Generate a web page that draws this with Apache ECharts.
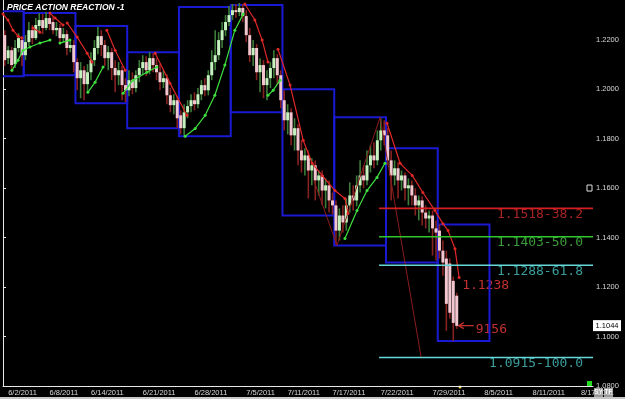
<!DOCTYPE html>
<html>
<head>
<meta charset="utf-8">
<script src="https://cdn.jsdelivr.net/npm/echarts@6/dist/echarts.min.js"></script>
<style>
html, body { margin: 0; padding: 0; background: #000; }
#main { width: 625px; height: 399px; }
</style>
</head>
<body>
<div id="main"></div>
<script>
// date ticks (bar index -> label)
var tickIdx = [1, 13, 25, 40, 55, 70, 82, 95, 109, 124, 139, 153, 167];
var tickText = ['6/2/2011', '6/8/2011', '6/14/2011', '6/21/2011', '6/28/2011', '7/5/2011', '7/11/2011',
    '7/17/2011', '7/22/2011', '7/29/2011', '8/5/2011', '8/11/2011', '8/17/2011'];
var slots = 171;

var opens = [
    1.2218, 1.2125, 1.2157, 1.2101, 1.2166, 1.2198, 1.2137, 1.2190, 1.2238, 1.2206,
    1.2255, 1.2279, 1.2247, 1.2287, 1.2271, 1.2238, 1.2247, 1.2206, 1.2222, 1.2166,
    1.2178, 1.2109, 1.2044, 1.2076, 1.2020, 1.2068, 1.2117, 1.2166, 1.2214, 1.2178,
    1.2125, 1.2149, 1.2085, 1.2056, 1.2076, 1.2016, 1.1995, 1.2036, 1.2004, 1.2056,
    1.2085, 1.2109, 1.2076, 1.2125, 1.2097, 1.2068, 1.2028, 1.2044, 1.1975, 1.1935,
    1.1955, 1.1894, 1.1842, 1.1906, 1.1931, 1.1955, 1.1939, 1.1979, 1.2016, 1.1995,
    1.2056, 1.2109, 1.2137, 1.2198, 1.2238, 1.2271, 1.2299, 1.2319, 1.2311, 1.2328,
    1.2295, 1.2218, 1.2137, 1.2166, 1.2068, 1.2097, 1.2016, 1.2044, 1.2085, 1.2125,
    1.2056, 1.1955, 1.1874, 1.1906, 1.1813, 1.1842, 1.1752, 1.1712, 1.1732, 1.1671,
    1.1692, 1.1631, 1.1651, 1.1590, 1.1611, 1.1550, 1.1530, 1.1428, 1.1489, 1.1461,
    1.1530, 1.1570, 1.1550, 1.1611, 1.1651, 1.1631, 1.1692, 1.1732, 1.1712, 1.1793,
    1.1833, 1.1813, 1.1712, 1.1651, 1.1680, 1.1631, 1.1651, 1.1599, 1.1611, 1.1570,
    1.1530, 1.1550, 1.1501, 1.1477, 1.1489, 1.1437, 1.1428, 1.1347, 1.1315, 1.1295,
    1.1225, 1.1165
];
var closes = [
    1.2117, 1.2157, 1.2097, 1.2166, 1.2206, 1.2137, 1.2190, 1.2238, 1.2206, 1.2259,
    1.2279, 1.2247, 1.2287, 1.2263, 1.2238, 1.2247, 1.2206, 1.2222, 1.2166, 1.2178,
    1.2109, 1.2044, 1.2076, 1.2020, 1.2068, 1.2117, 1.2166, 1.2214, 1.2178, 1.2125,
    1.2149, 1.2085, 1.2056, 1.2076, 1.2016, 1.1995, 1.2036, 1.2004, 1.2056, 1.2085,
    1.2109, 1.2076, 1.2125, 1.2097, 1.2068, 1.2028, 1.2044, 1.1975, 1.1935, 1.1955,
    1.1882, 1.1842, 1.1906, 1.1931, 1.1955, 1.1939, 1.1979, 1.2016, 1.1995, 1.2056,
    1.2109, 1.2137, 1.2198, 1.2238, 1.2271, 1.2299, 1.2319, 1.2311, 1.2328, 1.2295,
    1.2218, 1.2137, 1.2166, 1.2068, 1.2097, 1.2016, 1.2044, 1.2085, 1.2125, 1.2056,
    1.1955, 1.1874, 1.1906, 1.1813, 1.1842, 1.1752, 1.1712, 1.1732, 1.1671, 1.1692,
    1.1631, 1.1651, 1.1590, 1.1611, 1.1550, 1.1530, 1.1428, 1.1489, 1.1461, 1.1530,
    1.1570, 1.1550, 1.1611, 1.1651, 1.1631, 1.1692, 1.1732, 1.1712, 1.1793, 1.1833,
    1.1813, 1.1712, 1.1651, 1.1680, 1.1631, 1.1651, 1.1599, 1.1611, 1.1570, 1.1530,
    1.1550, 1.1501, 1.1477, 1.1489, 1.1437, 1.1420, 1.1347, 1.1299, 1.1132, 1.1096,
    1.1055, 1.1043
];
var lows = [
    1.2093, 1.2101, 1.2068, 1.2085, 1.2149, 1.2093, 1.2117, 1.2174, 1.2182, 1.2198,
    1.2230, 1.2222, 1.2238, 1.2238, 1.2222, 1.2214, 1.2182, 1.2190, 1.2137, 1.2149,
    1.2068, 1.1995, 1.1963, 1.1955, 1.1987, 1.2036, 1.2093, 1.2141, 1.2133, 1.2093,
    1.2076, 1.2036, 1.1987, 1.2016, 1.1955, 1.1947, 1.1971, 1.1979, 1.1987, 1.2028,
    1.2056, 1.2052, 1.2060, 1.2068, 1.2036, 1.1995, 1.2004, 1.1939, 1.1906, 1.1898,
    1.1842, 1.1817, 1.1813, 1.1882, 1.1906, 1.1914, 1.1923, 1.1955, 1.1971, 1.1975,
    1.2036, 1.2076, 1.2117, 1.2166, 1.2214, 1.2255, 1.2279, 1.2287, 1.2295, 1.2271,
    1.2190, 1.2109, 1.2093, 1.2036, 1.1987, 1.1963, 1.1955, 1.2004, 1.2044, 1.2020,
    1.1923, 1.1833, 1.1817, 1.1773, 1.1752, 1.1692, 1.1663, 1.1651, 1.1558, 1.1611,
    1.1550, 1.1570, 1.1530, 1.1518, 1.1501, 1.1493, 1.1372, 1.1388, 1.1420, 1.1428,
    1.1501, 1.1509, 1.1526, 1.1582, 1.1599, 1.1611, 1.1663, 1.1680, 1.1692, 1.1752,
    1.1773, 1.1692, 1.1550, 1.1611, 1.1558, 1.1590, 1.1550, 1.1530, 1.1530, 1.1489,
    1.1469, 1.1449, 1.1437, 1.1420, 1.1327, 1.1307, 1.1315, 1.1246, 1.1023, 1.1072,
    1.0982, 1.1031
];
var highs = [
    1.2238, 1.2174, 1.2170, 1.2198, 1.2226, 1.2214, 1.2218, 1.2271, 1.2259, 1.2287,
    1.2307, 1.2303, 1.2311, 1.2303, 1.2295, 1.2271, 1.2263, 1.2247, 1.2238, 1.2198,
    1.2198, 1.2125, 1.2109, 1.2093, 1.2101, 1.2149, 1.2198, 1.2251, 1.2238, 1.2198,
    1.2174, 1.2166, 1.2117, 1.2109, 1.2093, 1.2044, 1.2076, 1.2068, 1.2076, 1.2117,
    1.2137, 1.2133, 1.2149, 1.2145, 1.2125, 1.2101, 1.2076, 1.2060, 1.2004, 1.1979,
    1.1971, 1.1914, 1.1939, 1.1955, 1.1979, 1.1987, 1.2004, 1.2036, 1.2044, 1.2076,
    1.2157, 1.2238, 1.2230, 1.2271, 1.2299, 1.2336, 1.2344, 1.2344, 1.2348, 1.2344,
    1.2319, 1.2247, 1.2198, 1.2182, 1.2125, 1.2117, 1.2076, 1.2109, 1.2157, 1.2141,
    1.2076, 1.1995, 1.1939, 1.1923, 1.1882, 1.1858, 1.1793, 1.1761, 1.1752, 1.1720,
    1.1712, 1.1671, 1.1671, 1.1639, 1.1631, 1.1582, 1.1550, 1.1518, 1.1530, 1.1558,
    1.1623, 1.1611, 1.1651, 1.1712, 1.1692, 1.1752, 1.1773, 1.1785, 1.1833, 1.1882,
    1.1874, 1.1842, 1.1752, 1.1712, 1.1704, 1.1671, 1.1663, 1.1639, 1.1631, 1.1599,
    1.1570, 1.1566, 1.1530, 1.1509, 1.1509, 1.1469, 1.1453, 1.1388, 1.1347, 1.1315,
    1.1242, 1.1177
];

// weekly range boxes (bar edges, price high/low)
var boxStart = [-9, 6, 21, 36, 51, 66, 81, 96, 111, 126];
var boxEnd = [6, 21, 36, 51, 66, 81, 96, 111, 126, 141];
var boxHigh = [1.2315, 1.2307, 1.2255, 1.2149, 1.2332, 1.2340, 1.1999, 1.1886, 1.1761, 1.1453];
var boxLow = [1.2052, 1.2056, 1.1943, 1.1842, 1.1809, 1.1906, 1.1489, 1.1368, 1.1299, 1.0982];

// trailing stops
var redStops = [
    [[0, 1.2303], [1.45, 1.2279], [2.9, 1.2238], [4.35, 1.2214], [5.5, 1.2206]],
    [[8.7, 1.2247], [10.7, 1.2230]],
    [[13.6, 1.2307], [15.1, 1.2287], [17.4, 1.2259]],
    [[18.6, 1.2267], [21.5, 1.2210], [24.4, 1.2145], [25.8, 1.2109]],
    [[30.1, 1.2238], [32.5, 1.2157], [35.4, 1.2076]],
    [[44.1, 1.2145], [48.4, 1.2024], [53.3, 1.1894]],
    [[70.1, 1.2344], [73, 1.2279], [75.1, 1.2198], [76.8, 1.2109]],
    [[79.7, 1.2161], [83.2, 1.2016], [87, 1.1793], [89.6, 1.1700], [92.5, 1.1651], [96.2, 1.1590], [99.1, 1.1558], [100, 1.1497]],
    [[111.3, 1.1862], [115.1, 1.1700], [118.6, 1.1651], [121.7, 1.1582], [125.2, 1.1509], [127.5, 1.1456], [129, 1.1428], [131, 1.1355], [132.2, 1.1238]]
];
var greenStops = [
    [[2.6, 1.2076], [4.35, 1.2117], [5.8, 1.2157], [7.8, 1.2170], [10.7, 1.2186], [13.6, 1.2198]],
    [[16.5, 1.2186], [19.4, 1.2198]],
    [[24.6, 1.1987], [26.7, 1.2028], [29, 1.2089]],
    [[34.8, 1.1983], [37.7, 1.2036], [41.7, 1.2068], [44.6, 1.2089]],
    [[52.8, 1.1809], [55.7, 1.1841], [58.6, 1.1894], [61.4, 1.1975], [64.3, 1.2097], [67.2, 1.2238], [69.6, 1.2303]],
    [[76.8, 1.1975], [78.3, 1.1995], [80.3, 1.2036]],
    [[99.1, 1.1396], [102.6, 1.1509], [105.5, 1.1590], [108.4, 1.1643], [110.7, 1.1700]]
];
var zigzag = [[90.1, 1.1631], [96.8, 1.1368], [109.3, 1.1886], [121.2, 1.0915]];

var fibStart = 109;
var fibLevels = [1.1518, 1.1403, 1.1288, 1.0915];
var fibRatio = ['38.2', '50.0', '61.8', '100.0'];
var fibLine = ['#d42020', '#2ec82e', '#66d8d8', '#66d8d8'];
var fibText = ['#a82424', '#3c9c3c', '#3a9c9c', '#3a9c9c'];
var lastPrice = 1.1044;

var cats = [];
for (var i = 0; i < slots; i++) {
    var k = tickIdx.indexOf(i);
    cats.push(k >= 0 ? tickText[k] : '');
}
var bars = opens.map(function (o, i) {
    return [i, o, closes[i], lows[i], highs[i]];
});
var boxes = boxStart.map(function (s, i) {
    return [s, boxEnd[i], boxHigh[i], boxLow[i]];
});
var showTick = function (idx, val) { return val !== ''; };

var series = [{
    type: 'custom',
    name: 'boxes',
    xAxisIndex: 1,
    clip: true,
    data: boxes,
    renderItem: function (params, api) {
        var p1 = api.coord([api.value(0), api.value(2)]);
        var p2 = api.coord([api.value(1), api.value(3)]);
        return {
            type: 'rect',
            shape: { x: p1[0], y: p1[1], width: p2[0] - p1[0], height: p2[1] - p1[1] },
            style: { fill: 'none', stroke: '#1a1ad2', lineWidth: 2 }
        };
    }
}, {
    type: 'custom',
    name: 'price',
    data: bars,
    renderItem: function (params, api) {
        var x = api.value(0), o = api.value(1), c = api.value(2);
        var pH = api.coord([x, api.value(4)]);
        var pL = api.coord([x, api.value(3)]);
        var pO = api.coord([x, o]);
        var pC = api.coord([x, c]);
        var up = c >= o;
        var top = Math.min(pO[1], pC[1]);
        var h = Math.max(Math.abs(pO[1] - pC[1]), 1);
        return {
            type: 'group',
            children: [{
                type: 'line',
                shape: { x1: pH[0], y1: pH[1], x2: pL[0], y2: pL[1] },
                style: { stroke: up ? '#3d7d3a' : '#862222', lineWidth: 1.6 }
            }, {
                type: 'rect',
                shape: { x: pO[0] - 1.5, y: top, width: 3, height: h },
                style: { fill: up ? '#c6f2bf' : '#f2c6cf' }
            }]
        };
    }
}];

redStops.forEach(function (seg) {
    series.push({
        type: 'line', xAxisIndex: 1, data: seg, symbol: 'circle', symbolSize: 3,
        itemStyle: { color: '#e02828' }, lineStyle: { color: '#e02828', width: 1.2 },
        silent: true, animation: false
    });
});
greenStops.forEach(function (seg) {
    series.push({
        type: 'line', xAxisIndex: 1, data: seg, symbol: 'circle', symbolSize: 3,
        itemStyle: { color: '#3ee03e' }, lineStyle: { color: '#3ee03e', width: 1.2 },
        silent: true, animation: false
    });
});
series.push({
    type: 'line', xAxisIndex: 1, data: zigzag, symbol: 'none',
    lineStyle: { color: '#8c1c1c', width: 1 }, silent: true
});
fibLevels.forEach(function (lv, i) {
    series.push({
        type: 'line', xAxisIndex: 1, data: [[fibStart, lv], [slots, lv]], symbol: 'none',
        lineStyle: { color: fibLine[i], width: 1.6 }, silent: true
    });
});

var dom = document.getElementById('main');
var myChart = echarts.init(dom);
var option = {
    backgroundColor: '#000',
    animation: false,
    grid: { left: 3, right: 32, top: 0, bottom: 13 },
    xAxis: [{
        type: 'category',
        data: cats,
        axisLine: { lineStyle: { color: '#e8e8e8', width: 1 } },
        axisTick: { interval: showTick, alignWithLabel: true, length: 3, lineStyle: { color: '#e8e8e8' } },
        axisLabel: {
            interval: showTick, align: 'left', margin: 3, color: '#d8d8d8',
            fontSize: 7.5, fontFamily: 'Liberation Sans, Arial'
        },
        splitLine: { show: false }
    }, {
        type: 'value', min: 0, max: slots, show: false
    }],
    yAxis: [{
        type: 'value',
        position: 'right',
        min: 1.08,
        max: 1.236,
        interval: 0.02,
        axisLine: { show: true, lineStyle: { color: '#e8e8e8' } },
        axisTick: { show: true, length: 3, lineStyle: { color: '#e8e8e8' } },
        axisLabel: {
            color: '#d8d8d8', fontSize: 7.5, margin: 3, fontFamily: 'Liberation Sans, Arial',
            showMaxLabel: false,
            formatter: function (v) { return v.toFixed(4); }
        },
        splitLine: { show: false }
    }, {
        type: 'value',
        position: 'left',
        min: 1.08,
        max: 1.236,
        axisLine: { show: true, lineStyle: { color: '#e8e8e8' } },
        axisTick: { show: false },
        axisLabel: { show: false },
        splitLine: { show: false }
    }],
    series: series
};
myChart.setOption(option, true);

// annotations placed from data coordinates
var px = function (b) { return myChart.convertToPixel({ xAxisIndex: 1 }, b); };
var py = function (v) { return myChart.convertToPixel({ yAxisIndex: 0 }, v); };
var digit = 'DejaVu Sans Mono, monospace';
var graphic = [{
    type: 'text', left: 7, top: 3,
    style: { text: 'PRICE ACTION REACTION -1', fill: '#fff', font: 'italic bold 8.5px "Liberation Sans Narrow", "Liberation Sans", Arial' }
}];
fibLevels.forEach(function (lv, i) {
    graphic.push({
        type: 'text', x: px(slots) - 10, y: py(lv) + 6,
        style: {
            text: lv.toFixed(4) + '-' + fibRatio[i], fill: fibText[i], align: 'right', verticalAlign: 'middle',
            font: '13px ' + digit
        }
    });
});
var endStop = redStops[redStops.length - 1];
var endPt = endStop[endStop.length - 1];
graphic.push({
    type: 'text', x: px(endPt[0]) + 3, y: py(endPt[1]) + 8,
    style: { text: endPt[1].toFixed(4), fill: '#c43030', verticalAlign: 'middle', font: '13px ' + digit }
});
var lastX = px(opens.length - 0.5);
var lastY = py(lastPrice);
graphic.push({
    type: 'line', shape: { x1: lastX + 2, y1: lastY, x2: lastX + 17, y2: lastY },
    style: { stroke: '#c43030', lineWidth: 1.3 }
}, {
    type: 'polyline', shape: { points: [[lastX + 7, lastY - 3], [lastX + 2, lastY], [lastX + 7, lastY + 3]] },
    style: { stroke: '#c43030', lineWidth: 1.3, fill: 'none' }
}, {
    type: 'text', x: lastX + 19, y: lastY + 4,
    style: { text: '9156', fill: '#c43030', verticalAlign: 'middle', font: '13px ' + digit }
});
// last price tag on the axis
graphic.push({
    type: 'rect', shape: { x: 593, y: lastY - 5.5, width: 28, height: 11 },
    style: { fill: '#fff' }
}, {
    type: 'text', x: 607, y: lastY,
    style: { text: lastPrice.toFixed(4), fill: '#000', align: 'center', verticalAlign: 'middle', font: '7.5px Liberation Sans, Arial' }
});
// small chart widgets
graphic.push({
    type: 'rect', shape: { x: 587, y: py(1.16) - 3, width: 5, height: 6 },
    style: { fill: '#000', stroke: '#e0e0e0', lineWidth: 1 }
}, {
    type: 'rect', shape: { x: 587, y: 381, width: 5, height: 5 }, style: { fill: '#22dd22' }
}, {
    type: 'circle', shape: { cx: 460, cy: 387, r: 1.5 }, style: { fill: '#f0e060' }
}, {
    type: 'rect', shape: { x: 0, y: 397, width: 625, height: 2 }, style: { fill: '#c8c8c8' }
}, {
    type: 'rect', shape: { x: 594, y: 388, width: 9, height: 9 }, style: { fill: '#9a9a9a' }
}, {
    type: 'text', x: 598.5, y: 392.5,
    style: { text: 'SY', fill: '#fff', align: 'center', verticalAlign: 'middle', font: 'bold 6.5px Liberation Sans, Arial' }
}, {
    type: 'rect', shape: { x: 604, y: 388, width: 9, height: 9 }, style: { fill: '#9a9a9a' }
}, {
    type: 'text', x: 608.5, y: 392.5,
    style: { text: 'TF', fill: '#fff', align: 'center', verticalAlign: 'middle', font: 'bold 6.5px Liberation Sans, Arial' }
});
myChart.setOption({ graphic: graphic });
</script>
</body>
</html>
